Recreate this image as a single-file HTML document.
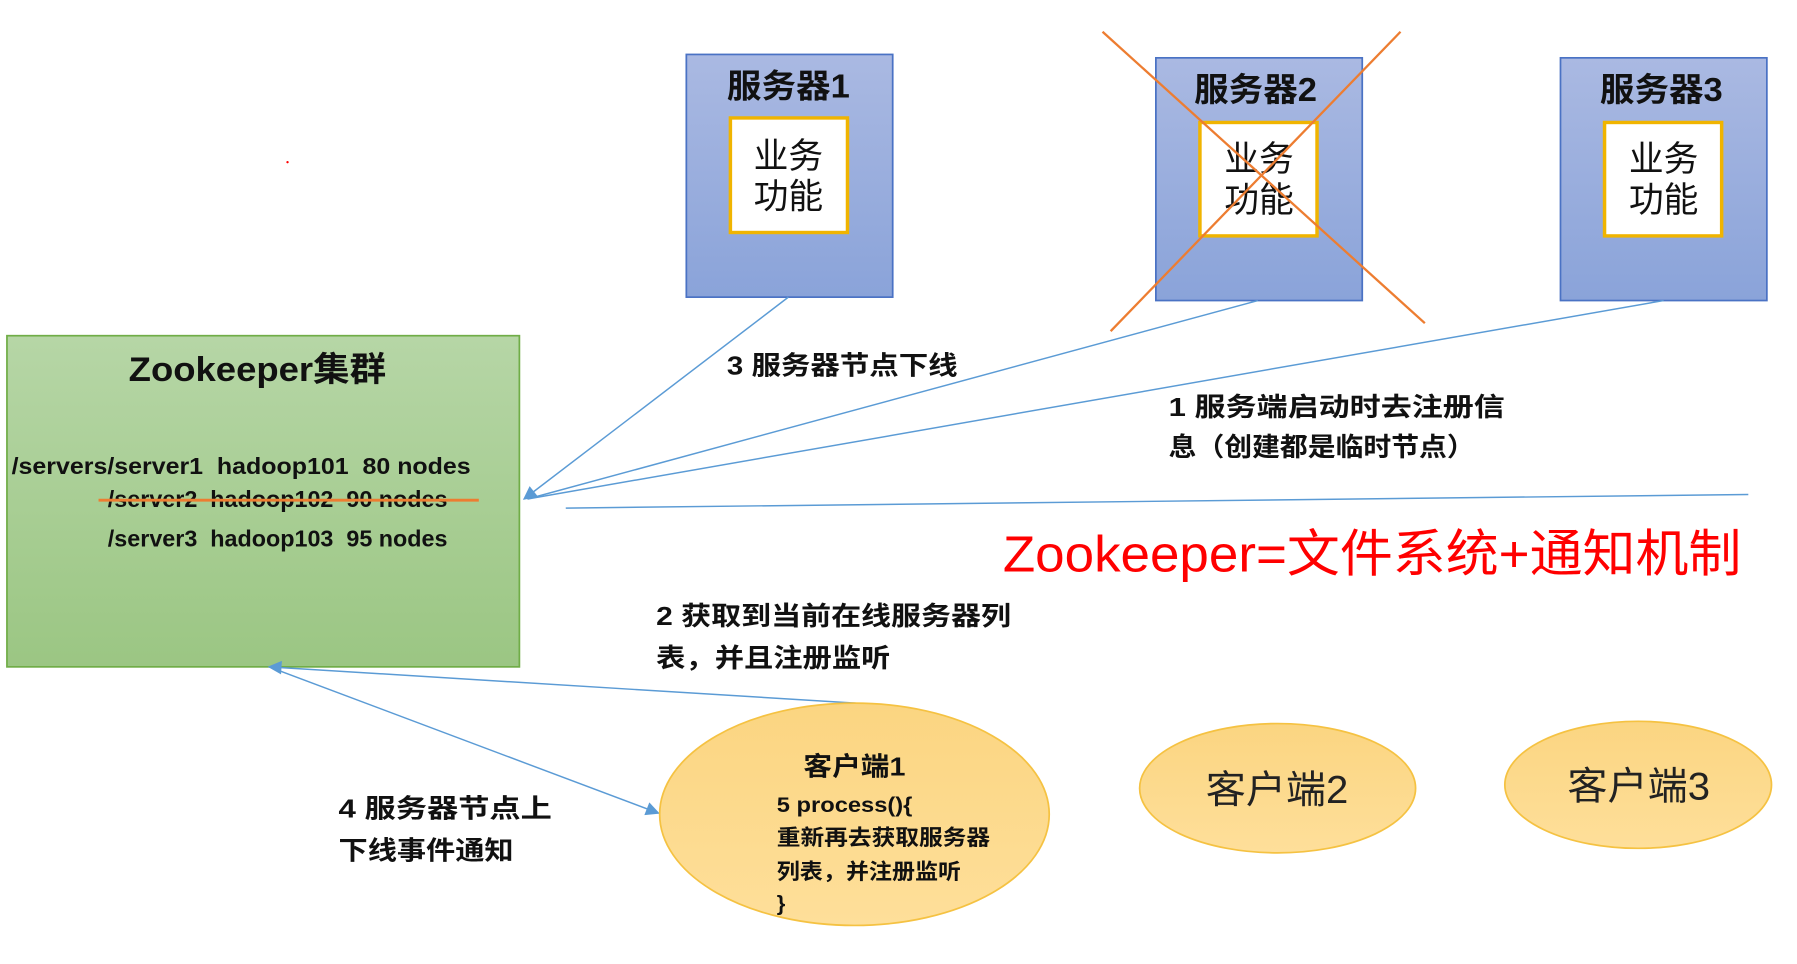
<!DOCTYPE html>
<html><head><meta charset="utf-8"><style>
html,body{margin:0;padding:0;background:#fff;width:1797px;height:964px;overflow:hidden}
svg{display:block}
text{font-family:"Liberation Sans","Noto Sans CJK SC",sans-serif}
</style></head><body>
<svg width="1797" height="964" viewBox="0 0 1550 850" preserveAspectRatio="none" xmlns="http://www.w3.org/2000/svg">
<defs>
<linearGradient id="gb" x1="0" y1="0" x2="0" y2="1"><stop offset="0" stop-color="#aab9e2"/><stop offset="1" stop-color="#8aa3d9"/></linearGradient>
<linearGradient id="gg" x1="0" y1="0" x2="0" y2="1"><stop offset="0" stop-color="#b6d6a6"/><stop offset="1" stop-color="#9bc683"/></linearGradient>
<linearGradient id="gy" x1="0" y1="0" x2="0" y2="1"><stop offset="0" stop-color="#fbd581"/><stop offset="1" stop-color="#fedf9a"/></linearGradient>
<marker id="ar" viewBox="0 0 10 10" refX="9" refY="5" markerWidth="14" markerHeight="12" markerUnits="userSpaceOnUse" orient="auto"><path d="M0,0 L10,5 L0,10 z" fill="#5b9bd5"/></marker>
</defs>
<circle cx="248" cy="143" r="1" fill="red"/>
<g stroke="#4a72c4" stroke-width="1.5" fill="url(#gb)">
<rect x="592" y="48" width="178" height="214"/>
<rect x="997" y="51" width="178" height="214"/>
<rect x="1346" y="51" width="178" height="214"/>
</g>
<g stroke="#f0b400" stroke-width="3" fill="#fff">
<rect x="630" y="104" width="101" height="101"/>
<rect x="1035" y="108" width="101" height="100"/>
<rect x="1384" y="108" width="101" height="100"/>
</g>
<g font-weight="bold" font-size="29" fill="#111" lengthAdjust="spacingAndGlyphs">
<text x="627" y="86" textLength="106" lengthAdjust="spacingAndGlyphs">服务器1</text>
<text x="1030" y="89" textLength="106" lengthAdjust="spacingAndGlyphs">服务器2</text>
<text x="1380" y="89" textLength="106" lengthAdjust="spacingAndGlyphs">服务器3</text>
</g>
<g font-size="31" fill="#111">
<text x="650" y="148" textLength="60" lengthAdjust="spacingAndGlyphs">业务</text><text x="650" y="184" textLength="60" lengthAdjust="spacingAndGlyphs">功能</text>
<text x="1056" y="151" textLength="60" lengthAdjust="spacingAndGlyphs">业务</text><text x="1056" y="187" textLength="60" lengthAdjust="spacingAndGlyphs">功能</text>
<text x="1405" y="151" textLength="60" lengthAdjust="spacingAndGlyphs">业务</text><text x="1405" y="187" textLength="60" lengthAdjust="spacingAndGlyphs">功能</text>
</g>
<g stroke="#ed7d31" stroke-width="2">
<line x1="951" y1="28" x2="1229" y2="285"/>
<line x1="1208" y1="28" x2="958" y2="292"/>
</g>
<rect x="6" y="296" width="442" height="292" fill="url(#gg)" stroke="#70ad47" stroke-width="1.5"/>
<text x="111" y="336" textLength="222" lengthAdjust="spacingAndGlyphs" font-weight="bold" font-size="30" fill="#111">Zookeeper集群</text>
<g font-weight="bold" font-size="20" fill="#111">
<text x="10" y="418" textLength="396" lengthAdjust="spacingAndGlyphs">/servers/server1 &#160;hadoop101 &#160;80 nodes</text>
<text x="93" y="447" textLength="293" lengthAdjust="spacingAndGlyphs">/server2 &#160;hadoop102 &#160;90 nodes</text>
<text x="93" y="482" textLength="293" lengthAdjust="spacingAndGlyphs">/server3 &#160;hadoop103 &#160;95 nodes</text>
</g>
<line x1="85" y1="441" x2="413" y2="441" stroke="#ed7d31" stroke-width="2.5"/>
<g stroke="#5b9bd5" stroke-width="1.3" fill="none">
<line x1="680" y1="262" x2="452" y2="440" marker-end="url(#ar)"/>
<line x1="1085" y1="265" x2="455" y2="440"/>
<line x1="1435" y1="265" x2="455" y2="440"/>
<line x1="488" y1="448" x2="1508" y2="436"/>
<line x1="738" y1="620" x2="232" y2="588" marker-end="url(#ar)"/>
<line x1="240" y1="591" x2="568" y2="717" marker-end="url(#ar)"/>
</g>
<g font-weight="bold" font-size="23" fill="#111">
<text x="627" y="330" textLength="199" lengthAdjust="spacingAndGlyphs">3 服务器节点下线</text>
<text x="1008" y="367" textLength="290" lengthAdjust="spacingAndGlyphs">1  服务端启动时去注册信</text>
<text x="1008" y="402" textLength="264" lengthAdjust="spacingAndGlyphs">息（创建都是临时节点）</text>
<text x="566" y="551" textLength="306" lengthAdjust="spacingAndGlyphs">2  获取到当前在线服务器列</text>
<text x="566" y="588" textLength="202" lengthAdjust="spacingAndGlyphs">表，并且注册监听</text>
<text x="292" y="721" textLength="184" lengthAdjust="spacingAndGlyphs">4  服务器节点上</text>
<text x="292" y="758" textLength="151" lengthAdjust="spacingAndGlyphs">下线事件通知</text>
</g>
<text x="865" y="504" font-size="45" fill="#ff0000" textLength="637" lengthAdjust="spacingAndGlyphs">Zookeeper=文件系统+通知机制</text>
<g fill="url(#gy)" stroke="#f5c242" stroke-width="1.5">
<ellipse cx="737" cy="718" rx="168" ry="98"/>
<ellipse cx="1102" cy="695" rx="119" ry="57"/>
<ellipse cx="1413" cy="692" rx="115" ry="56"/>
</g>
<text x="693" y="684" textLength="88" lengthAdjust="spacingAndGlyphs" font-weight="bold" font-size="23" fill="#111">客户端1</text>
<g font-weight="bold" font-size="19" fill="#111">
<text x="670" y="716" textLength="117" lengthAdjust="spacingAndGlyphs">5 process(){</text>
<text x="670" y="745" textLength="184" lengthAdjust="spacingAndGlyphs">重新再去获取服务器</text>
<text x="670" y="775" textLength="159" lengthAdjust="spacingAndGlyphs">列表，并注册监听</text>
<text x="670" y="803">}</text>
</g>
<g font-size="34" fill="#222">
<text x="1040" y="708" textLength="123" lengthAdjust="spacingAndGlyphs">客户端2</text>
<text x="1352" y="705" textLength="123" lengthAdjust="spacingAndGlyphs">客户端3</text>
</g>
</svg>
</body></html>
